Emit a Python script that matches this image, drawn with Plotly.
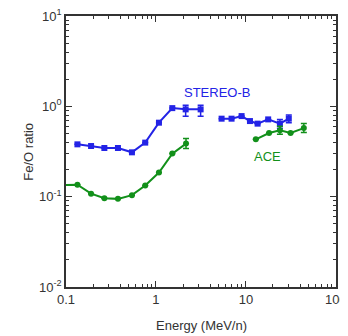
import plotly.graph_objects as go

# STEREO-B Fe/O
stb_e1 = [0.134, 0.19, 0.267, 0.378, 0.541, 0.76, 1.08, 1.52, 2.14, 3.14]
stb_r1 = [0.38, 0.364, 0.346, 0.346, 0.31, 0.397, 0.66, 0.957, 0.927, 0.927]
stb_up1 = [0, 0, 0, 0, 0, 0, 0, 0, 0.10, 0.10]
stb_dn1 = [0, 0, 0, 0, 0, 0, 0, 0, 0.15, 0.15]
stb_e2 = [5.37, 6.93, 8.96, 11.1, 13.5, 17.7, 23.9, 30.0]
stb_r2 = [0.731, 0.731, 0.781, 0.688, 0.644, 0.718, 0.644, 0.731]
stb_up2 = [0, 0, 0, 0, 0, 0, 0.07, 0.07]
stb_dn2 = [0, 0, 0, 0, 0, 0, 0.07, 0.07]

# ACE Fe/O
ace_e1 = [0.09, 0.134, 0.19, 0.267, 0.378, 0.541, 0.76, 1.08, 1.52, 2.16]
ace_r1 = [0.134, 0.136, 0.108, 0.0962, 0.0946, 0.104, 0.133, 0.185, 0.30, 0.387]
ace_up1 = [0, 0, 0, 0, 0, 0, 0, 0, 0, 0.053]
ace_dn1 = [0, 0, 0, 0, 0, 0, 0, 0, 0, 0.046]
ace_e2 = [12.9, 18.1, 23.9, 31.4, 44.1]
ace_r2 = [0.432, 0.507, 0.543, 0.507, 0.575]
ace_up2 = [0, 0, 0.06, 0, 0.07]
ace_dn2 = [0, 0, 0.05, 0, 0.06]

x_tickvals = [0.1, 1, 10, 100]
x_ticktext = ["0.1", "1", "10", "100"]
y_tickvals = [0.01, 0.1, 1, 10]
y_ticktext = ["10<sup>-2</sup>", "10<sup>-1</sup>", "10<sup>0</sup>", "10<sup>1</sup>"]
x_minor = [m * d for d in [0.1, 1, 10] for m in range(2, 10)]
y_minor = [m * d for d in [0.01, 0.1, 1] for m in range(2, 10)]

BLUE = "#2323e6"
GREEN = "#12901a"

fig = go.Figure()

def add(e, r, up, dn, color, symbol):
    fig.add_trace(go.Scatter(
        x=e, y=r, mode="lines+markers",
        line=dict(color=color, width=2),
        marker=dict(color=color, size=6, symbol=symbol),
        error_y=dict(type="data", symmetric=False, array=up, arrayminus=dn,
                     color=color, thickness=1.5, width=3),
        showlegend=False, cliponaxis=True,
    ))

add(stb_e1, stb_r1, stb_up1, stb_dn1, BLUE, "square")
add(stb_e2, stb_r2, stb_up2, stb_dn2, BLUE, "square")
add(ace_e1, ace_r1, ace_up1, ace_dn1, GREEN, "circle")
add(ace_e2, ace_r2, ace_up2, ace_dn2, GREEN, "circle")

FAM = "Liberation Sans, Arial, sans-serif"
font = dict(family=FAM, size=13, color="#333")

def axis(tv, tt, minor_vals, rng):
    return dict(
        type="log", range=rng, showgrid=False, zeroline=False, automargin=False,
        tickmode="array", tickvals=tv, ticktext=tt, ticklabeloverflow="allow",
        showline=True, linecolor="#333", linewidth=1.5, mirror="allticks",
        ticks="inside", ticklen=6, tickwidth=1.2, tickcolor="#333",
        minor=dict(tickmode="array", tickvals=minor_vals, ticks="inside",
                   ticklen=3, tickwidth=1, tickcolor="#333", showgrid=False),
        tickfont=font,
    )

# page body has an 8px margin, so the figure is offset by 8px
fig.update_layout(
    width=348, height=336,
    margin=dict(l=58, r=20, t=8, b=57),
    paper_bgcolor="white", plot_bgcolor="white",
    font=font,
    xaxis=axis(x_tickvals, x_ticktext, x_minor, [-1, 2.002]),
    yaxis=axis(y_tickvals, y_ticktext, y_minor, [-2, 1.001]),
    annotations=[
        dict(text="STEREO-B", x=0.674, y=0.158, xref="x", yref="y",
             xanchor="center", yanchor="middle",
             showarrow=False, font=dict(family=FAM, size=13, color=BLUE)),
        dict(text="ACE", x=1.237, y=-0.56, xref="x", yref="y",
             xanchor="center", yanchor="middle",
             showarrow=False, font=dict(family=FAM, size=13, color=GREEN)),
        dict(text="Energy (MeV/n)", x=0.5, y=-0.143, xref="paper", yref="paper",
             xanchor="center", yanchor="middle",
             showarrow=False, font=dict(family=FAM, size=13, color="#333")),
        dict(text="Fe/O ratio", x=-0.14, y=0.5, xref="paper", yref="paper", textangle=-90,
             xanchor="center", yanchor="middle",
             showarrow=False, font=dict(family=FAM, size=13, color="#333")),
    ],
)

fig.write_html("out.html")
